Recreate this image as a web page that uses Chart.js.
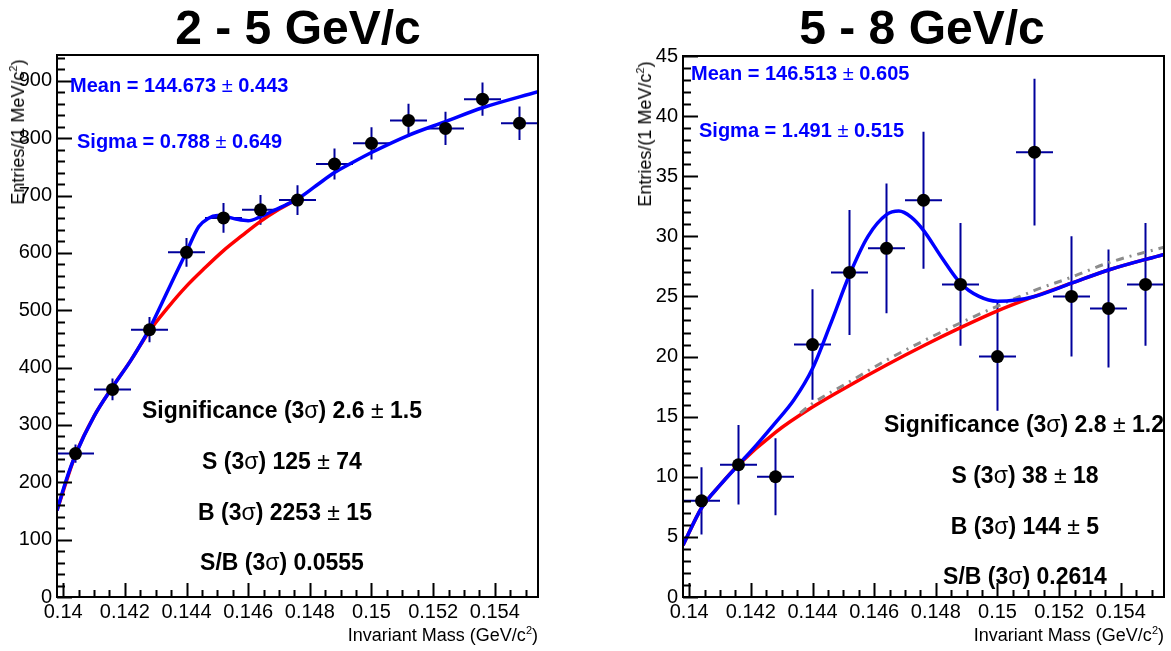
<!DOCTYPE html>
<html>
<head>
<meta charset="utf-8">
<script src="https://cdn.jsdelivr.net/npm/chart.js@4.4.1/dist/chart.umd.min.js"></script>
<style>
  body { margin: 0; background: #fff; width: 1171px; height: 651px; overflow: hidden; position: relative;
         font-family: "Liberation Sans", Arial, Helvetica, sans-serif; }
  canvas { position: absolute; top: 0; }
  .t { position: absolute; white-space: nowrap; line-height: 1; }
  .title { font-size: 48px; font-weight: bold; color: #000; transform: translateX(-50%); }
  .ann { font-size: 23px; font-weight: bold; color: #000; transform: translateX(-50%); }
  .fit { font-size: 20px; font-weight: bold; color: #0000ff; }
  .n { font-weight: normal; }
  .xt { font-size: 18px; color: #000; }
  .yt { font-size: 18px; color: #000; transform: translate(-50%, -50%) rotate(-90deg); }
  sup { font-size: 11px; line-height: 0; vertical-align: 7px; }
</style>
</head>
<body>
<canvas id="cLow" width="600" height="651" style="left:0"></canvas>
<canvas id="cHigh" width="571" height="651" style="left:600px"></canvas>

<div class="t title" style="left:298px;top:4px">2 - 5 GeV/c</div>
<div class="t title" style="left:922px;top:4px">5 - 8 GeV/c</div>

<div class="t fit" style="left:70px;top:75px">Mean = 144.673 <span class="n">±</span> 0.443</div>
<div class="t fit" style="left:77px;top:131px">Sigma = 0.788 <span class="n">±</span> 0.649</div>
<div class="t fit" style="left:691px;top:63px">Mean = 146.513 <span class="n">±</span> 0.605</div>
<div class="t fit" style="left:699px;top:120px">Sigma = 1.491 <span class="n">±</span> 0.515</div>

<div class="t ann" style="left:282px;top:399px">Significance (3<span class="n">σ</span>) 2.6 <span class="n">±</span> 1.5</div>
<div class="t ann" style="left:282px;top:450px">S (3<span class="n">σ</span>) 125 <span class="n">±</span> 74</div>
<div class="t ann" style="left:285px;top:501px">B (3<span class="n">σ</span>) 2253 <span class="n">±</span> 15</div>
<div class="t ann" style="left:282px;top:551px">S/B (3<span class="n">σ</span>) 0.0555</div>

<div class="t ann" style="left:1024px;top:413px">Significance (3<span class="n">σ</span>) 2.8 <span class="n">±</span> 1.2</div>
<div class="t ann" style="left:1025px;top:464px">S (3<span class="n">σ</span>) 38 <span class="n">±</span> 18</div>
<div class="t ann" style="left:1025px;top:515px">B (3<span class="n">σ</span>) 144 <span class="n">±</span> 5</div>
<div class="t ann" style="left:1025px;top:565px">S/B (3<span class="n">σ</span>) 0.2614</div>

<div class="t xt" style="right:633px;top:626px">Invariant Mass (GeV/c<sup>2</sup>)</div>
<div class="t xt" style="right:7px;top:626px">Invariant Mass (GeV/c<sup>2</sup>)</div>
<div class="t yt" style="left:18px;top:132px">Entries/(1 MeV/c<sup>2</sup>)</div>
<div class="t yt" style="left:645px;top:134px">Entries/(1 MeV/c<sup>2</sup>)</div>

<script>
// ── 데이터 ───────────────────────────────────────────────────────────────────
var binCenters = [0.1404, 0.1416, 0.1428, 0.1440, 0.1452, 0.1464, 0.1476, 0.1488, 0.1500, 0.1512, 0.1524, 0.1536, 0.1548];
var binHalf = 0.0006;
var xMin = 0.1398, xMax = 0.1554;
var xTickVals = [0.14, 0.142, 0.144, 0.146, 0.148, 0.15, 0.152, 0.154];

// 2 - 5 GeV/c
var countsLow = [250, 362, 466, 601, 661, 675, 692, 755, 791, 831, 817, 868, 826];
var errLow    = [16, 19, 22, 25, 26, 26, 26, 27, 28, 29, 29, 29, 29];
var yTickLow  = [0, 100, 200, 300, 400, 500, 600, 700, 800, 900];
var fitLowX = [0.1398, 0.1401, 0.1404, 0.1410, 0.1416, 0.1422, 0.1428, 0.1434, 0.1440, 0.1444, 0.1447, 0.1450,
               0.1453, 0.1456, 0.1460, 0.1464, 0.1468, 0.1472, 0.1476, 0.1482, 0.1488, 0.1494, 0.1500, 0.1512,
               0.1524, 0.1536, 0.1554];
var fitLowY = [151, 204, 248, 315, 366, 413, 468, 535, 602, 646, 660, 665,
               663, 659, 656, 663, 673, 683, 694, 717, 740, 758, 775, 805,
               829, 853, 881];
var bkgLowX = [0.1398, 0.1404, 0.1410, 0.1416, 0.1422, 0.1428, 0.1434, 0.1440, 0.1446, 0.1452, 0.1458, 0.1464, 0.1470, 0.1476];
var bkgLowY = [151, 248, 315, 366, 413, 464, 505, 542, 574, 604, 630, 655, 676, 694];

// 5 - 8 GeV/c
var countsHigh = [8, 11, 10, 21, 27, 29, 33, 26, 20, 37, 25, 24, 26];
var errHigh    = [2.8, 3.3, 3.2, 4.6, 5.2, 5.4, 5.7, 5.1, 4.5, 6.1, 5.0, 4.9, 5.1];
var yTickHigh  = [0, 5, 10, 15, 20, 25, 30, 35, 40, 45];
var fitHighX = [0.1398, 0.1404, 0.1410, 0.1416, 0.1422, 0.1428, 0.1434, 0.1440, 0.1446, 0.1452, 0.1458, 0.1464,
                0.1468, 0.1472, 0.1476, 0.1482, 0.1488, 0.1494, 0.1500, 0.1506, 0.1512, 0.1524, 0.1536, 0.1554];
var fitHighY = [4.3, 7.4, 9.3, 11.0, 12.7, 14.5, 16.4, 19.0, 22.8, 26.8, 30.0, 31.8,
                32.1, 31.6, 30.5, 28.2, 26.1, 25.0, 24.6, 24.7, 25.0, 26.1, 27.2, 28.5];
var bkgHighX = [0.1398, 0.1404, 0.1410, 0.1416, 0.1428, 0.1440, 0.1452, 0.1464, 0.1476, 0.1488, 0.1500,
                0.1512, 0.1524, 0.1536, 0.1554];
var bkgHighY = [4.3, 7.4, 9.3, 11.0, 13.7, 15.8, 17.6, 19.3, 20.9, 22.4, 23.8,
                25.0, 26.1, 27.2, 28.5];
var refHighX = [0.1436, 0.1440, 0.1452, 0.1464, 0.1476, 0.1488, 0.1500, 0.1512, 0.1524, 0.1536, 0.1554];
var refHighY = [15.3, 16.1, 17.9, 19.7, 21.3, 22.8, 24.2, 25.5, 26.6, 27.8, 29.1];

// ── 헬퍼 ─────────────────────────────────────────────────────────────────────
function pts(xs, ys) {
  return xs.map(function(x, i) { return { x: x, y: ys[i] }; });
}

function errBars(xs, ys, es) {
  var h = [], v = [];
  xs.forEach(function(x, i) {
    h.push({ x: x - binHalf, y: ys[i] }, { x: x + binHalf, y: ys[i] }, { x: x + binHalf, y: null });
    v.push({ x: x, y: ys[i] - es[i] }, { x: x, y: ys[i] + es[i] }, { x: x, y: null });
  });
  return { h: h, v: v };
}

// ROOT 스타일: 안쪽 눈금 + 프레임
var frameTicks = {
  id: "frameTicks",
  afterDatasetsDraw: function(chart) {
    var o = chart.options.plugins.frameTicks;
    var ctx = chart.ctx, a = chart.chartArea, xs = chart.scales.x, ys = chart.scales.y;
    ctx.save();
    ctx.strokeStyle = "#000";
    ctx.lineWidth = 2;
    ctx.beginPath();
    var k, v, p, major;
    for (k = Math.ceil(xs.min / 0.0005 - 1e-6); k * 0.0005 <= xs.max + 1e-9; k++) {
      v = k * 0.0005;
      major = Math.abs(k % 4) === 0;
      p = Math.round(xs.getPixelForValue(v)) + 0.5;
      ctx.moveTo(p, a.bottom);
      ctx.lineTo(p, a.bottom - (major ? 14 : 7));
    }
    for (k = 0; k * o.yMinor <= ys.max + 1e-9; k++) {
      v = k * o.yMinor;
      major = k % o.yPer === 0;
      p = Math.round(ys.getPixelForValue(v)) + 0.5;
      ctx.moveTo(a.left, p);
      ctx.lineTo(a.left + (major ? 15 : 8), p);
    }
    ctx.stroke();
    ctx.strokeRect(a.left, a.top, a.right - a.left, a.bottom - a.top);
    ctx.restore();
  },
};

function makePanel(id, o) {
  var eb = errBars(binCenters, o.counts, o.errs);
  var datasets = [
    { data: pts(binCenters, o.counts), pointRadius: 6.5, pointHoverRadius: 6.5,
      backgroundColor: "#000", borderWidth: 0, showLine: false, order: 0 },
    { data: pts(o.fitX, o.fitY), showLine: true, borderColor: "#0000ff", borderWidth: 3.5,
      pointRadius: 0, cubicInterpolationMode: "monotone", order: 1 },
    { data: pts(o.bkgX, o.bkgY), showLine: true, borderColor: "#ff0000", borderWidth: 3.5,
      pointRadius: 0, cubicInterpolationMode: "monotone", order: 3 },
    { data: eb.h, showLine: true, spanGaps: false, borderColor: "#00009c", borderWidth: 2, pointRadius: 0, order: 5 },
    { data: eb.v, showLine: true, spanGaps: false, borderColor: "#00009c", borderWidth: 2, pointRadius: 0, order: 5 },
  ];
  if (o.refX) {
    datasets.push({ data: pts(o.refX, o.refY), showLine: true, borderColor: "#8c8c8c", borderWidth: 3,
      borderDash: [8, 6, 2, 6], pointRadius: 0, cubicInterpolationMode: "monotone", order: 2 });
  }

  var tickFont = { family: "'Liberation Sans', Arial, sans-serif", size: 20 };
  return new Chart(document.getElementById(id).getContext("2d"), {
    type: "scatter",
    data: { datasets: datasets },
    plugins: [frameTicks],
    options: {
      responsive: false, animation: false, devicePixelRatio: 1,
      layout: { padding: { left: 0, top: o.top, right: o.padRight, bottom: 0 } },
      plugins: {
        legend: { display: false }, tooltip: { enabled: false },
        frameTicks: { yMinor: o.yMinor, yPer: o.yPer },
      },
      scales: {
        x: {
          type: "linear", min: xMin, max: xMax,
          grid: { display: false, drawTicks: false }, border: { display: false },
          afterBuildTicks: function(s) { s.ticks = xTickVals.map(function(v) { return { value: v }; }); },
          afterFit: function(s) { s.height = 54; },
          ticks: { autoSkip: false, maxRotation: 0, padding: 3, color: "#000", font: tickFont,
                   callback: function(v) { return String(+v.toFixed(4)); } },
        },
        y: {
          type: "linear", min: 0, max: o.yMax,
          grid: { display: false, drawTicks: false }, border: { display: false },
          afterBuildTicks: function(s) { s.ticks = o.yTicks.map(function(v) { return { value: v }; }); },
          afterFit: function(s) { s.width = o.axisLeft; },
          ticks: { autoSkip: false, padding: 5, color: "#000", font: tickFont },
        },
      },
    },
  });
}

makePanel("cLow", {
  counts: countsLow, errs: errLow, fitX: fitLowX, fitY: fitLowY, bkgX: bkgLowX, bkgY: bkgLowY,
  yTicks: yTickLow, yMax: 945, yMinor: 20, yPer: 5,
  top: 55, axisLeft: 57, padRight: 600 - 538,
});

makePanel("cHigh", {
  counts: countsHigh, errs: errHigh, fitX: fitHighX, fitY: fitHighY, bkgX: bkgHighX, bkgY: bkgHighY,
  refX: refHighX, refY: refHighY,
  yTicks: yTickHigh, yMax: 45, yMinor: 1, yPer: 5,
  top: 56, axisLeft: 83, padRight: 571 - 564,
});
</script>
</body>
</html>
